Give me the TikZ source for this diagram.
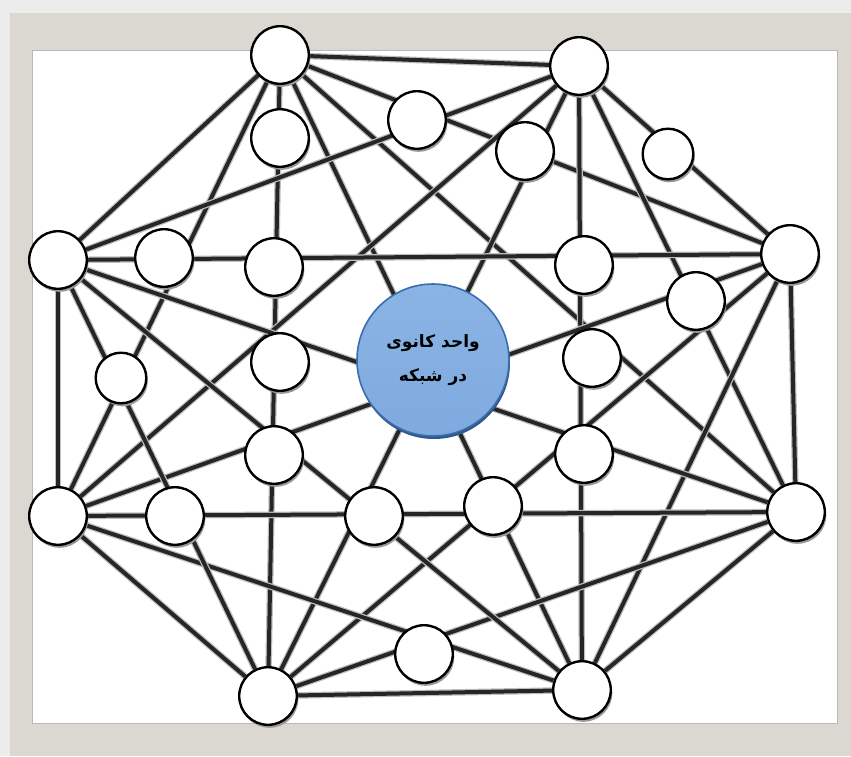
\documentclass[tikz,border=0pt]{standalone}
\usepackage{fontspec}
\usepackage{tikz}
\usetikzlibrary{shadows,backgrounds}
\TeXXeTstate=1
\newfontfamily\farsi[Script=Arabic]{DejaVu Sans}
\definecolor{haze}{HTML}{ECECEC}
\definecolor{frame}{HTML}{DAD8D1}
\definecolor{unitTop}{HTML}{8AB4E4}
\definecolor{unitMid}{HTML}{4F8DD0}
\definecolor{unitBot}{HTML}{7FAADF}
\definecolor{unitRim}{HTML}{3A6DAE}

\begin{document}
\begin{tikzpicture}[x=1pt,y=-1pt,
  hub/.style={circle,draw=black,line width=2.4pt,fill=white,inner sep=0pt,minimum size=57.6pt,
    drop shadow={shadow xshift=1.5pt,shadow yshift=-3pt,fill=black!40,opacity=1}},
  small/.style={hub,minimum size=50.6pt},
  unit/.style={circle,draw=unitRim,line width=1.6pt,top color=unitTop,middle color=unitMid,bottom color=unitBot,
    inner sep=0pt,minimum size=152pt,align=center,font=\farsi\bfseries\fontsize{17}{34}\selectfont,
    drop shadow={shadow xshift=1pt,shadow yshift=-3pt,fill=unitRim!80!black,opacity=1}},
  link/.style={line width=4pt,draw=black!85,preaction={draw=black!25,line width=6.5pt}}]
\useasboundingbox (0,0) rectangle (851,756);
% outer ring
\node[hub] (A) at (280,55) {};
\node[hub] (B) at (579,66) {};
\node[hub] (C) at (790,254) {};
\node[hub] (D) at (796,512) {};
\node[hub] (E) at (582,690) {};
\node[hub] (F) at (268,696) {};
\node[hub] (G) at (58,516) {};
\node[hub] (H) at (58,260) {};
% inner circles
\node[hub] (n1) at (417,120) {};
\node[hub] (n2) at (280,138) {};
\node[hub] (n3) at (525,151) {};
\node[small] (n4) at (668,154) {};
\node[hub] (n5) at (164,258) {};
\node[hub] (n6) at (274,267) {};
\node[hub] (n7) at (584,265) {};
\node[hub] (n8) at (696,301) {};
\node[hub] (n9) at (280,362) {};
\node[hub] (n10) at (592,358) {};
\node[small] (n11) at (121,378) {};
\node[hub] (n12) at (274,455) {};
\node[hub] (n13) at (584,454) {};
\node[hub] (n14) at (175,516) {};
\node[hub] (n15) at (374,516) {};
\node[hub] (n16) at (493,506) {};
\node[hub] (n17) at (424,654) {};
\node[unit] (U) at (433,360) {\beginR واحد کانوی\endR\\\beginR در شبکه\endR};
\begin{scope}[on background layer]
\fill[haze] (0,0) rectangle (851,756);
\fill[frame] (10,13) rectangle (851,756);
\fill[white,draw=gray!55,line width=1pt] (32,50) rectangle (837,723);
\draw[link] (A)--(B); \draw[link] (A)--(C); \draw[link] (A)--(D); \draw[link] (A)--(E);
\draw[link] (A)--(F); \draw[link] (A)--(G); \draw[link] (A)--(H);
\draw[link] (B)--(C); \draw[link] (B)--(D); \draw[link] (B)--(E); \draw[link] (B)--(F);
\draw[link] (B)--(G); \draw[link] (B)--(H);
\draw[link] (C)--(D); \draw[link] (C)--(E); \draw[link] (C)--(F); \draw[link] (C)--(G); \draw[link] (C)--(H);
\draw[link] (D)--(E); \draw[link] (D)--(F); \draw[link] (D)--(G); \draw[link] (D)--(H);
\draw[link] (E)--(F); \draw[link] (E)--(G); \draw[link] (E)--(H);
\draw[link] (F)--(G); \draw[link] (F)--(H);
\draw[link] (G)--(H);
\end{scope}
\end{tikzpicture}
\end{document}
